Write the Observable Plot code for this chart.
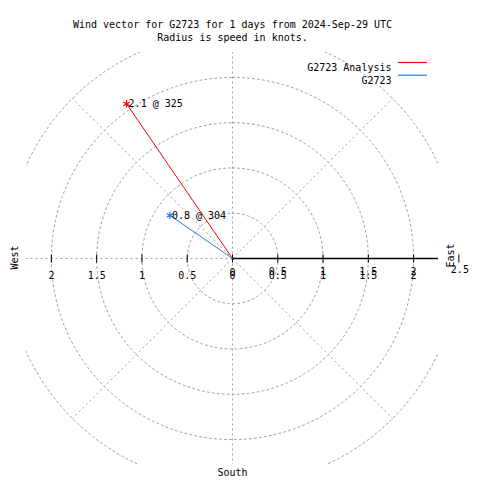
<!DOCTYPE html>
<html>
<head>
<meta charset="utf-8">
<script src="https://cdn.jsdelivr.net/npm/d3@7"></script>
<script src="https://cdn.jsdelivr.net/npm/@observablehq/plot@0.6"></script>
<style>
  html, body { margin: 0; padding: 0; background: white; }
  #chart svg { display: block; }
</style>
</head>
<body>
<div id="chart"></div>
<script>
// ---- data ----
const titleLines = ["Wind vector for G2723 for 1 days from 2024-Sep-29 UTC", "Radius is speed in knots."];
const seriesNames = ["G2723 Analysis", "G2723"];
const speeds = [2.07, 0.84];          // knots
const directions = [325.6, 304.6];    // degrees, compass
const seriesColors = ["#ff0000", "#1e80e6"];
const ringRadii = [0.5, 1, 1.5, 2, 2.5];
const spokeAngles = [0, 45, 90, 135, 180, 225, 270, 315];
const tickValues = [-2, -1.5, -1, -0.5, 0, 0.5, 1, 1.5, 2, 2.5];
const lowerTickLabels = [-2, -1.5, -1, -0.5, 0, 0.5, 1, 1.5, 2];
const upperTickLabels = [0.5, 1, 1.5, 2];
const outerTickLabel = [2.5];
const compassLabels = ["West", "East", "South"];

// ---- derived ----
const L = 2.275; // visible half-range (knots)
const rad = d => d * Math.PI / 180;
const vectors = seriesNames.map((name, i) => ({
  name,
  speed: speeds[i],
  dir: directions[i],
  color: seriesColors[i],
  x: speeds[i] * Math.sin(rad(directions[i])),
  y: speeds[i] * Math.cos(rad(directions[i])),
  label: speeds[i].toFixed(1) + " @ " + Math.floor(directions[i])
}));
const ringPoints = ringRadii.flatMap(r =>
  d3.range(0, 362, 2).map(a => ({r, x: r * Math.sin(rad(a)), y: r * Math.cos(rad(a))}))
);
const rMax = d3.max(ringRadii);
const spokes = spokeAngles.map(a => ({x2: rMax * Math.sin(rad(a)), y2: rMax * Math.cos(rad(a))}));

const grid = {stroke: "#a0a0a0", strokeWidth: 1, strokeDasharray: "2,3", clip: true};

const chart = Plot.plot({
  width: 480,
  height: 480,
  marginLeft: 26,
  marginRight: 42,
  marginTop: 52,
  marginBottom: 16,
  x: {domain: [-L, L], axis: null},
  y: {domain: [-L, L], axis: null},
  style: {fontFamily: "'DejaVu Sans Mono', monospace", fontSize: "10px", background: "white", color: "black", overflow: "visible"},
  marks: [
    Plot.line(ringPoints, {x: "x", y: "y", z: "r", ...grid}),
    Plot.link(spokes, {x1: 0, y1: 0, x2: "x2", y2: "y2", ...grid}),
    Plot.link([rMax], {x1: 0, y1: 0, x2: d => d, y2: 0, stroke: "black", strokeWidth: 1.5, clip: true}),
    Plot.link(tickValues, {x1: d => d, x2: d => d, y1: -0.045, y2: 0.045, stroke: "black", strokeWidth: 1}),
    Plot.text(lowerTickLabels, {x: d => d, y: 0, text: d => String(Math.abs(d)), dy: 17.5, fill: "black"}),
    Plot.text(upperTickLabels, {x: d => d, y: 0, text: d => String(Math.abs(d)), dy: 13, fill: "black"}),
    Plot.text(outerTickLabel, {x: d => d, y: 0, text: d => String(d), dy: 11, dx: 1, fill: "black"}),
    Plot.text([0], {x: d => d, y: 0, text: d => String(d), dy: 14.5, fill: "black"}),
    // compass labels
    Plot.text([compassLabels[0]], {x: -L, y: 0, text: d => d, rotate: -90, dx: -12, dy: -1, fill: "black"}),
    Plot.text([compassLabels[1]], {x: L, y: 0, text: d => d, rotate: -90, dx: 12, dy: -3, fill: "black"}),
    Plot.text([compassLabels[2]], {x: 0, y: -L, text: d => d, dy: 7.8, fill: "black"}),
    // vectors
    Plot.link(vectors, {x1: 0, y1: 0, x2: "x", y2: "y", stroke: "color", strokeWidth: 1}),
    Plot.dot(vectors, {x: "x", y: "y", symbol: "asterisk", r: 3.5, stroke: "color", strokeWidth: 1.2}),
    Plot.text(vectors, {x: "x", y: "y", text: "label", textAnchor: "start", dx: 2, fill: "black"}),
    // title
    Plot.text([titleLines[0]], {frameAnchor: "top", text: d => d, dy: -31.2, fill: "black"}),
    Plot.text([titleLines[1]], {frameAnchor: "top", text: d => d, dy: -18.7, fill: "black"}),
    // legend labels
    Plot.text([seriesNames[0]], {frameAnchor: "top-right", text: d => d, textAnchor: "end", dx: -47, dy: 11.3, fill: "black"}),
    Plot.text([seriesNames[1]], {frameAnchor: "top-right", text: d => d, textAnchor: "end", dx: -47, dy: 24.0, fill: "black"})
  ]
});

// legend swatches
const svg = d3.select(chart);
seriesColors.forEach((c, i) => {
  svg.append("line")
    .attr("x1", 398).attr("x2", 427)
    .attr("y1", 62.5 + i * 12.7).attr("y2", 62.5 + i * 12.7)
    .attr("stroke", c).attr("stroke-width", 1.2);
});

document.getElementById("chart").appendChild(chart);
</script>
</body>
</html>
